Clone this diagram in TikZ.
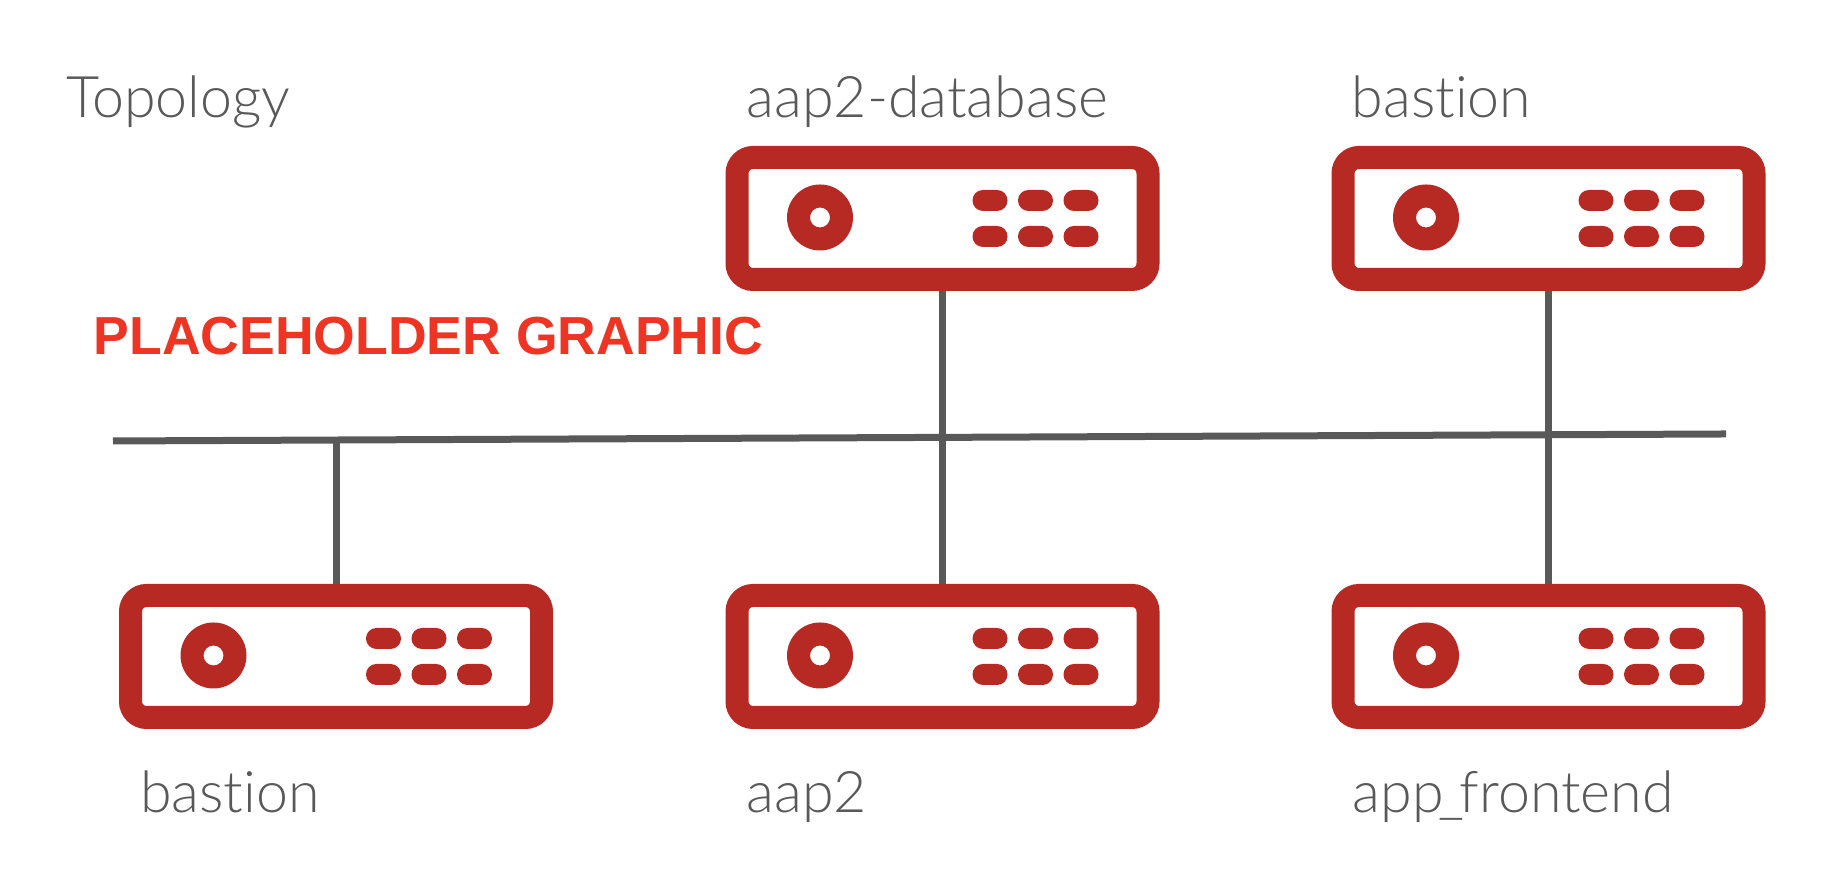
\documentclass[tikz,border=0pt]{standalone}
\usepackage{fontspec}
\setmainfont{Lato Light}[Ligatures=NoCommon]
\newfontfamily\stampfont{Liberation Sans}[BoldFont={Liberation Sans Bold}]
\definecolor{serverred}{HTML}{B72A23}
\definecolor{stampred}{HTML}{EE3524}
\definecolor{wiregray}{HTML}{595959}
\begin{document}
\begin{tikzpicture}[
    x=0.01cm, y=0.01cm,
    server/.style={draw=serverred, fill=white, line width=23*0.01cm, rounded corners=16*0.01cm,
        minimum width=411*0.01cm, minimum height=122*0.01cm, inner sep=0pt},
    wire/.style={wiregray, line width=7*0.01cm},
    label/.style={text=wiregray, font=\fontsize{16.3}{19}\selectfont, anchor=base west, inner sep=0pt},
    pill/.style={fill=serverred, rounded corners=10.4*0.01cm}
    ]
    \useasboundingbox (0,0) rectangle (1830,874);

    % Servers
    \node[server] (database) at (942.5,655.5) {};
    \node[server] (bastiontop) at (1548.5,655.5) {};
    \node[server] (bastionlow) at (336,217.5) {};
    \node[server] (aap) at (942.5,217.5) {};
    \node[server] (frontend) at (1548.5,217.5) {};

    % Disc and ports on each server
    \foreach \name in {database,bastiontop,bastionlow,aap,frontend} {
        \fill[serverred, even odd rule] ([shift={(-122.5,1)}]\name.center) circle (33)
            ([shift={(-122.5,1)}]\name.center) circle (10);
        \foreach \px in {47.5,93,138.5}
            \foreach \py in {18,-18}
                \fill[pill] ([shift={(\px-17.5,\py-10.5)}]\name.center) rectangle ([shift={(\px+17.5,\py+10.5)}]\name.center);
    }

    % Network
    \coordinate (busleft) at (113,433);
    \coordinate (busright) at (1726,440);
    \coordinate (tap) at (336,434);
    \draw[wire] (busleft) -- (busright);
    \draw[wire] (database) -- (aap);
    \draw[wire] (bastiontop) -- (frontend);
    \draw[wire] (tap) -- (bastionlow);

    % Labels
    \node[label] (topology) at (65.5,756) {Topology};
    \node[label] (databasename) at (746,756) {aap2-database};
    \node[label] (bastiontopname) at (1351,756) {bastion};
    \node[label] (bastionlowname) at (139.5,61) {bastion};
    \node[label] (aapname) at (746,61) {aap2};
    \node[label] (frontendname) at (1352,61) {app\kern-1.4pt\_\kern-1.4pt frontend};
    \node[text=stampred, font=\stampfont\bfseries\fontsize{15.23}{18}\selectfont, anchor=base west, inner sep=0pt] (stamp) at (93,519) {PLACEHOLDER GRAPHIC};
\end{tikzpicture}
\end{document}
